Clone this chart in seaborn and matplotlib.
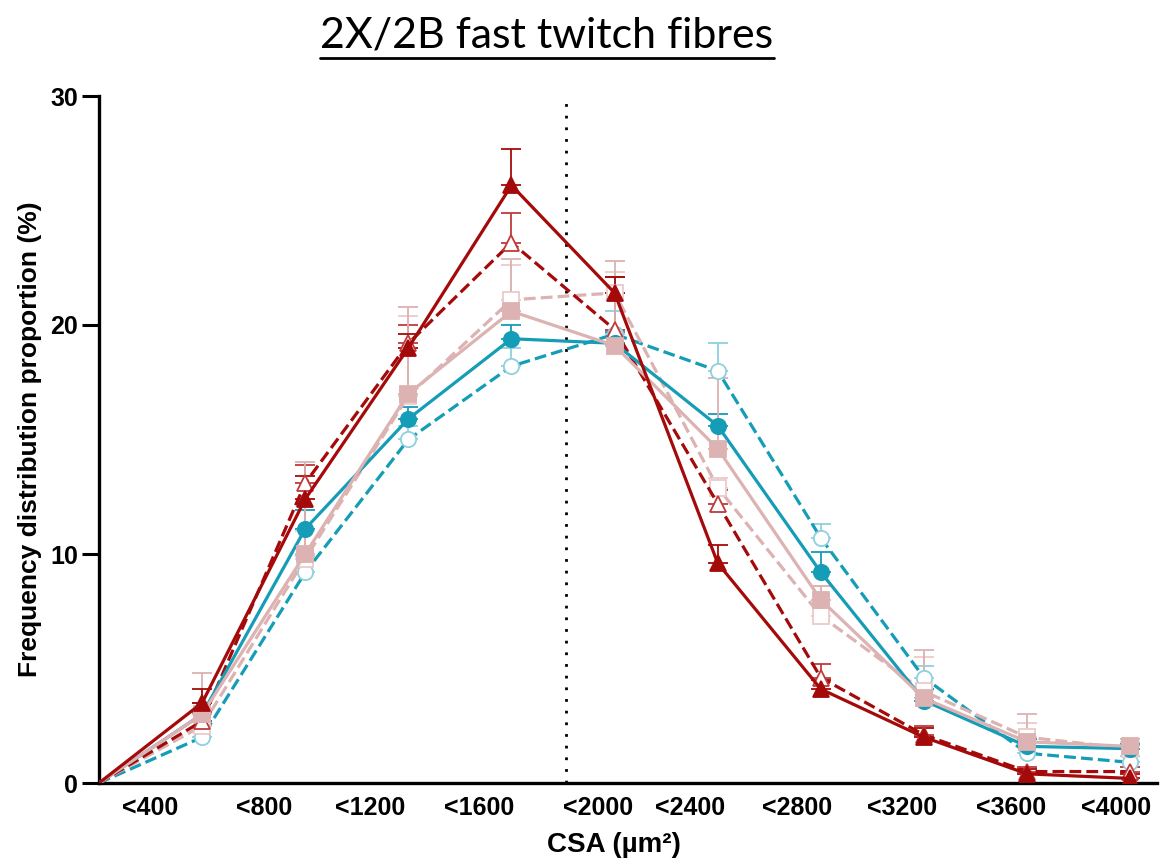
import numpy as np
import pandas as pd
import seaborn as sns
import matplotlib.pyplot as plt
from matplotlib.lines import Line2D

# bins of fibre cross-sectional area (first point is the origin)
bins = ["0", "<400", "<800", "<1200", "<1600", "<2000", "<2400", "<2800", "<3200", "<3600", "<4000"]
tick_labels = bins[1:]

# mean frequency (%) and upper error bar for each group
red_solid = [0, 3.5, 12.4, 19.0, 26.1, 21.4, 9.6, 4.1, 2.0, 0.4, 0.2]
red_solid_err = [0, 0.6, 1.0, 0.6, 1.6, 0.7, 0.8, 0.4, 0.4, 0.2, 0.2]
red_dash = [0, 2.7, 13.1, 19.2, 23.6, 19.8, 12.2, 4.6, 2.1, 0.5, 0.5]
red_dash_err = [0, 0.4, 0.8, 0.8, 1.3, 2.3, 0.6, 0.6, 0.4, 0.2, 0.2]
teal_solid = [0, 3.0, 11.1, 15.9, 19.4, 19.2, 15.6, 9.2, 3.6, 1.6, 1.5]
teal_solid_err = [0, 0.5, 0.8, 0.5, 0.6, 0.5, 0.5, 0.9, 0.5, 0.3, 0.2]
teal_dash = [0, 2.0, 9.2, 15.0, 18.2, 19.6, 18.0, 10.7, 4.6, 1.3, 0.9]
teal_dash_err = [0, 0.5, 0.7, 0.6, 0.8, 1.0, 1.2, 0.6, 0.5, 0.3, 0.3]
pink_solid = [0, 3.0, 10.0, 17.0, 20.6, 19.1, 14.6, 8.0, 3.7, 1.8, 1.6]
pink_solid_err = [0, 1.8, 4.0, 3.8, 2.3, 3.7, 3.1, 0.6, 2.1, 1.2, 0.3]
pink_dash = [0, 2.5, 9.8, 16.9, 21.1, 21.4, 12.9, 7.3, 4.0, 2.0, 1.5]
pink_dash_err = [0, 0.6, 1.2, 3.5, 1.5, 0.9, 0.4, 1.3, 1.5, 0.6, 0.3]

# layout: where the bin labels sit under the axis
label_pos = [0.5, 1.6, 2.63, 3.69, 4.84, 5.73, 6.77, 7.79, 8.84, 9.86]
cutoff = 4.53

RED, TEAL, PINK = "#a50a0a", "#159cb6", "#dcb2b2"
RED_L, TEAL_L, PINK_L = "#c03a3a", "#8fd0de", "#ebcaca"

sns.set_style("white")
plt.rcParams["font.family"] = ["Liberation Sans", "DejaVu Sans"]
plt.rcParams["text.color"] = "black"
plt.rcParams["axes.labelcolor"] = "black"
plt.rcParams["xtick.color"] = "black"
plt.rcParams["ytick.color"] = "black"

fig = plt.figure(figsize=(11.68, 8.63), dpi=100)
ax = fig.add_axes([99 / 1168, 1 - 783 / 863, (1157 - 99) / 1168, (783 - 96) / 863])

x = np.arange(len(bins))

series = [
    # values, err, color, err color, marker, filled, linestyle
    (teal_dash, teal_dash_err, TEAL, TEAL_L, "o", False, "--"),
    (pink_dash, pink_dash_err, PINK, PINK_L, "s", False, "--"),
    (red_dash, red_dash_err, RED, RED_L, "^", False, "--"),
    (teal_solid, teal_solid_err, TEAL, TEAL, "o", True, "-"),
    (pink_solid, pink_solid_err, PINK, PINK, "s", True, "-"),
    (red_solid, red_solid_err, RED, RED, "^", True, "-"),
]

for vals, err, col, ecol, mk, filled, ls in series:
    y = np.array(vals)
    e = np.array(err)
    ax.errorbar(x[1:], y[1:], yerr=[np.zeros(len(x) - 1), e[1:]], fmt="none",
                ecolor=ecol, elinewidth=1.3, capsize=7, capthick=1.3, zorder=2)
    df = pd.DataFrame({"bin": x, "pct": y})
    sns.lineplot(data=df, x="bin", y="pct", ax=ax, color=col, linewidth=2.3,
                 linestyle=ls, marker=mk, markevery=list(range(1, len(x))), markersize=11,
                 markerfacecolor=col if filled else "white",
                 markeredgecolor=col if filled else ecol,
                 markeredgewidth=1.3, zorder=3)

ax.axvline(cutoff, ymin=0, ymax=1, color="black", linestyle=(0, (1, 3.2)), linewidth=2, zorder=1)

ax.set_xlim(0, 10.26)
ax.set_ylim(0, 30)
ax.set_yticks([0, 10, 20, 30])
ax.set_yticklabels(["0", "10", "20", "30"], fontsize=18, fontweight="bold")
ax.set_xticks(label_pos)
ax.set_xticklabels(tick_labels, fontsize=18, fontweight="bold")
ax.tick_params(axis="y", length=12, width=2.2, direction="out", pad=3, left=True)
ax.tick_params(axis="x", length=0, pad=9)

for s in ["top", "right"]:
    ax.spines[s].set_visible(False)
for s in ["left", "bottom"]:
    ax.spines[s].set_linewidth(2.4)
    ax.spines[s].set_color("black")

ax.set_xlabel("CSA (µm²)", fontsize=20, fontweight="bold", labelpad=8)
ax.xaxis.set_label_coords((614 - 99) / (1157 - 99), -0.072)
ax.set_ylabel("Frequency distribution proportion (%)", fontsize=19, fontweight="bold", labelpad=6)

title = fig.text(547 / 1168, 1 - 36 / 863, "2X/2B fast twitch fibres", ha="center", va="center",
                 fontsize=31, family=["Lato", "DejaVu Sans"])
fig.canvas.draw()
bb = title.get_window_extent()
uy = bb.y0 - 3
fig.add_artist(Line2D([bb.x0 / 1168, bb.x1 / 1168], [uy / 863, uy / 863], color="black", linewidth=2))

fig.savefig("out.png", dpi=100)
